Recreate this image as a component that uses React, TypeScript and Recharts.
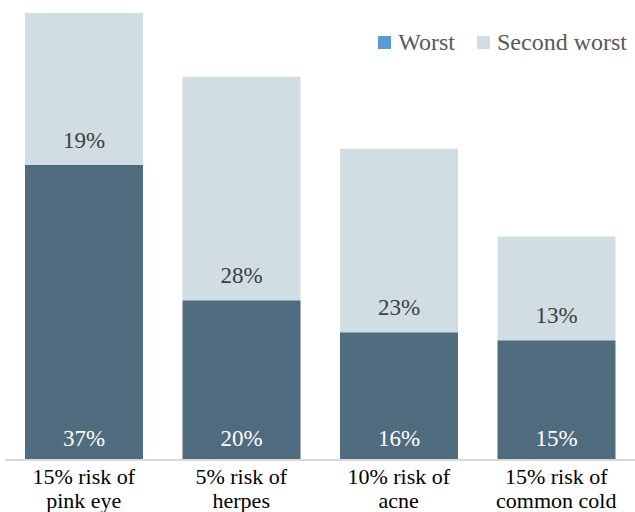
import { Bar, BarChart, LabelList, XAxis, YAxis } from "recharts";

const categories = [
  ["15% risk of", "pink eye"],
  ["5% risk of", "herpes"],
  ["10% risk of", "acne"],
  ["15% risk of", "common cold"]
];
const worst = [37, 20, 16, 15];
const secondWorst = [19, 28, 23, 13];

const chartData = categories.map((lines, i) => ({
  name: lines.join(" "),
  lines,
  worst: worst[i],
  second: secondWorst[i]
}));

const serifFont = "'Liberation Serif', 'Times New Roman', serif";

function CategoryTick(props: any): JSX.Element {
  const { x, y, payload } = props;
  const lines = chartData[payload.index]?.lines ?? [payload.value];
  return (
    <text x={x} y={y} textAnchor="middle" fontFamily={serifFont} fontSize={22} fill="#000">
      {lines.map((line: string, i: number) => (
        <tspan key={i} x={x} dy={i === 0 ? 16 : 24}>
          {line}
        </tspan>
      ))}
    </text>
  );
}

function makeLabel(color: string, offset: number) {
  return (props: any): JSX.Element => {
    const { x, y, width, height, value } = props;
    return (
      <text
        x={x + width / 2}
        y={y + height - offset}
        textAnchor="middle"
        fontFamily={serifFont}
        fontSize={23}
        fill={color}
      >
        {value}%
      </text>
    );
  };
}

const legendItems = [
  { label: "Worst", color: "#5b9bd5" },
  { label: "Second worst", color: "#d0dde3" }
];

export default function App(): JSX.Element {
  return (
    <div
      style={{
        position: "absolute",
        left: 0,
        top: 0,
        width: 635,
        height: 512,
        background: "#fff",
        fontFamily: serifFont
      }}
    >
      <BarChart
        width={635}
        height={512}
        data={chartData}
        margin={{ top: 13, right: 0, bottom: 0, left: 5 }}
        barCategoryGap={20}
      >
        <XAxis
          dataKey="name"
          axisLine={{ stroke: "#d9d9d9", strokeWidth: 2 }}
          tickLine={false}
          height={52}
          interval={0}
          tick={<CategoryTick />}
        />
        <YAxis hide domain={[0, 56]} />
        <Bar dataKey="worst" stackId="a" fill="#4f6b7e" isAnimationActive={false}>
          <LabelList dataKey="worst" content={makeLabel("#ffffff", 14)} />
        </Bar>
        <Bar dataKey="second" stackId="a" fill="#d0dde3" isAnimationActive={false}>
          <LabelList dataKey="second" content={makeLabel("#404040", 17)} />
        </Bar>
      </BarChart>
      <div
        style={{
          position: "absolute",
          top: 28,
          right: 8,
          display: "flex",
          fontSize: 24,
          color: "#595959",
          lineHeight: "28px"
        }}
      >
        {legendItems.map((item) => (
          <div key={item.label} style={{ display: "flex", alignItems: "center", marginLeft: 22 }}>
            <span style={{ width: 13, height: 13, background: item.color, marginRight: 7, display: "inline-block" }} />
            {item.label}
          </div>
        ))}
      </div>
    </div>
  );
}
